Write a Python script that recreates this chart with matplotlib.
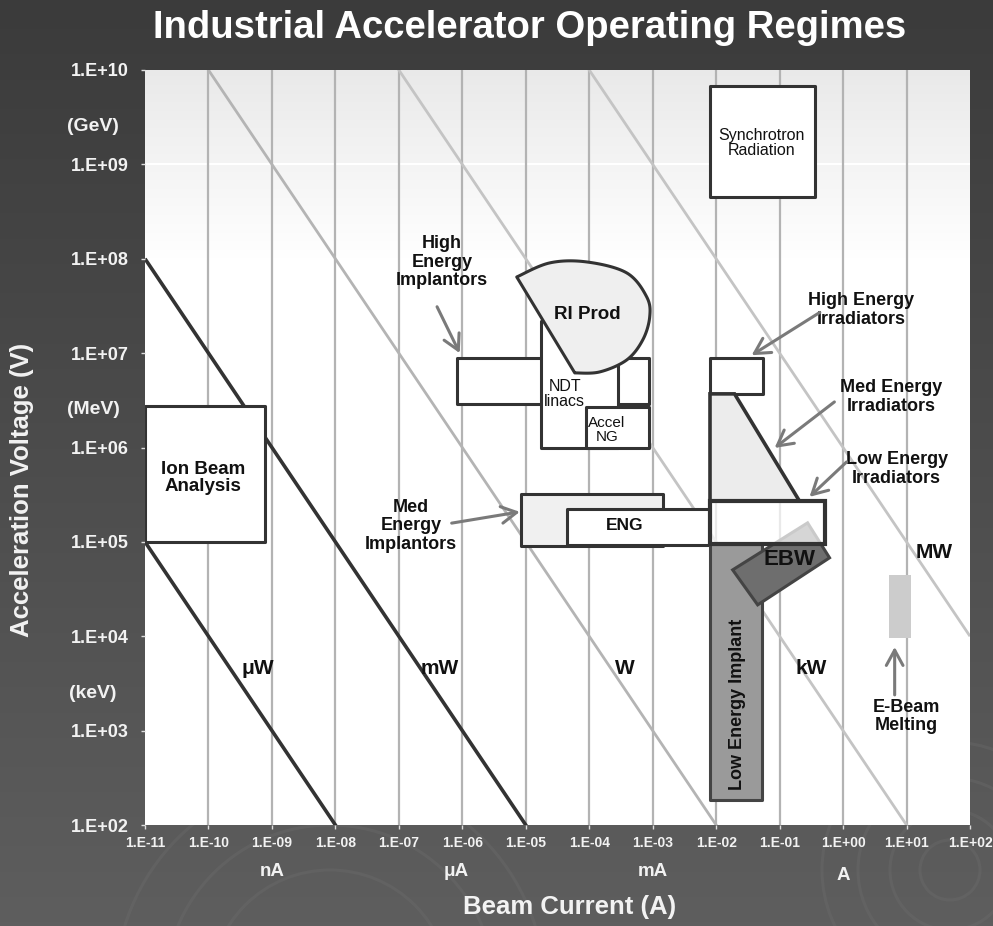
import numpy as np
import matplotlib
matplotlib.use("Agg")
import matplotlib.pyplot as plt
from matplotlib.patches import Polygon, Rectangle, Circle
from matplotlib import font_manager

# ---------------- data ----------------
x_ticks = [1e-11, 1e-10, 1e-9, 1e-8, 1e-7, 1e-6, 1e-5, 1e-4, 1e-3, 1e-2, 1e-1, 1e0, 1e1, 1e2]
x_tick_labels = ["1.E-11", "1.E-10", "1.E-09", "1.E-08", "1.E-07", "1.E-06", "1.E-05",
                 "1.E-04", "1.E-03", "1.E-02", "1.E-01", "1.E+00", "1.E+01", "1.E+02"]
y_ticks = [1e2, 1e3, 1e4, 1e5, 1e6, 1e7, 1e8, 1e9, 1e10]
y_tick_labels = ["1.E+02", "1.E+03", "1.E+04", "1.E+05", "1.E+06", "1.E+07", "1.E+08", "1.E+09", "1.E+10"]

current_units = ["nA", "μA", "mA", "A"]
current_unit_pos = [1e-9, 8e-7, 1e-3, 1e0]
voltage_units = ["(keV)", "(MeV)", "(GeV)"]
voltage_unit_pos = [2.5e3, 2.5e6, 2.5e9]

power_levels = [1e-6, 1e-3, 1e0, 1e3, 1e6]
power_labels = ["μW", "mW", "W", "kW", "MW"]
power_label_current = [6.0e-10, 4.4e-7, 3.6e-4, 0.32, 27.0]
power_label_voltage = [4.6e3, 4.6e3, 4.6e3, 4.6e3, 7.7e4]
power_line_colors = ["#333333", "#333333", "#b4b4b4", "#c4c4c4", "#c4c4c4"]
power_line_widths = [2.6, 2.6, 2.0, 2.0, 2.0]

# rectangular regimes (drawing order)
box_names = ["Ion Beam Analysis", "High Energy Implantors", "NDT linacs", "Accel NG",
             "Med Energy Implantors", "ENG", "Synchrotron Radiation", "High Energy Irradiators",
             "Low Energy Implant"]
box_i_lo = [1e-11, 8.1e-7, 1.74e-5, 8.9e-5, 8.3e-6, 4.4e-5, 8e-3, 8e-3, 8e-3]
box_i_hi = [7.8e-10, 8.9e-4, 2.8e-4, 8.9e-4, 1.45e-3, 7.9e-3, 0.356, 0.054, 0.052]
box_v_lo = [1e5, 2.9e6, 1e6, 1e6, 9e4, 9.2e4, 4.5e8, 3.7e6, 186]
box_v_hi = [2.75e6, 8.9e6, 2.2e7, 2.7e6, 3.2e5, 2.24e5, 6.8e9, 8.9e6, 9.5e4]
box_fill = ["white", "white", "white", "white", "#f0f0f0", "white", "white", "white", "#9a9a9a"]

# Low energy irradiators (semi-transparent, drawn last)
lei_i = [8e-3, 0.51]
lei_v = [9.5e4, 2.7e5]

# Med energy irradiators (trapezoid)
mei_current = [8e-3, 0.0195, 0.206, 8e-3]
mei_voltage = [3.7e6, 3.7e6, 2.7e5, 2.7e5]

# EBW (tilted rectangle)
ebw_current = [0.0182, 0.276, 0.612, 0.0451]
ebw_voltage = [5.05e4, 1.59e5, 6.78e4, 2.15e4]

# E-beam melting
ebm_i = [5.2, 11.6]
ebm_v = [9.6e3, 4.5e4]

# RI Prod fan: arc outline from upper-left corner around to the apex
fan_current = [7.21e-6, 2.39e-5, 9.14e-5, 3.90e-4, 8.05e-4, 8.97e-4, 6.97e-4, 3.90e-4, 1.46e-4, 5.92e-5]
fan_voltage = [6.41e7, 9.04e7, 9.25e7, 7.08e7, 3.94e7, 2.42e7, 1.38e7, 8.47e6, 6.32e6, 6.17e6]

# labels inside regimes
region_labels = ["Ion Beam\nAnalysis", "RI Prod", "NDT\nlinacs", "Accel\nNG", "ENG",
                 "Synchrotron\nRadiation", "EBW", "Low Energy Implant"]
region_label_i = [8.2e-11, 9.46e-5, 4.1e-5, 1.89e-4, 3.62e-4, 0.052, 0.1435, 0.0218]
region_label_v = [4.76e5, 2.54e7, 3.7e6, 1.53e6, 1.48e5, 1.69e9, 6.46e4, 1.92e3]
region_label_size = [13.5, 13.5, 11.5, 11, 12.5, 11.5, 16, 13]
region_label_weight = ["bold", "bold", "normal", "normal", "bold", "normal", "bold", "bold"]
region_label_rot = [0, 0, 0, 0, 0, 0, 0, 90]

# callouts
callout_texts = ["High\nEnergy\nImplantors", "Med\nEnergy\nImplantors", "High Energy\nIrradiators",
                 "Med Energy\nIrradiators", "Low Energy\nIrradiators", "E-Beam\nMelting"]
callout_text_i = [4.8e-7, 1.55e-7, 1.95, 5.8, 6.97, 10.0]
callout_text_v = [9.2e7, 1.48e5, 2.87e7, 3.44e6, 5.93e5, 1.4e3]
callout_tail_i = [4.0e-7, 6.8e-7, 0.43, 0.73, 1.135, 6.5]
callout_tail_v = [3.1e7, 1.58e5, 2.7e7, 3.04e6, 7.03e5, 2.39e3]
callout_head_i = [9.1e-7, 8.05e-6, 0.0362, 0.0834, 0.296, 6.5]
callout_head_v = [1.0e7, 2.08e5, 9.5e6, 9.9e5, 3.0e5, 7.7e3]

title = "Industrial Accelerator Operating Regimes"
xlabel = "Beam Current (A)"
ylabel = "Acceleration Voltage (V)"

# ---------------- style ----------------
W, H, DPI = 993, 926, 100
SANS = ["Liberation Sans", "DejaVu Sans"]
avail = {f.name for f in font_manager.fontManager.ttflist}
NARROW = ["Liberation Sans Narrow", "Liberation Sans", "DejaVu Sans"] if "Liberation Sans Narrow" in avail else SANS
plt.rcParams["font.family"] = SANS
EDGE = "#333333"

fig = plt.figure(figsize=(W / DPI, H / DPI), dpi=DPI)

# background
bg = fig.add_axes([0, 0, 1, 1], zorder=-10)
g = np.linspace(0, 1, 256)[:, None, None]
top_c = np.array([0x3b, 0x3b, 0x3b]) / 255
bot_c = np.array([0x5e, 0x5e, 0x5e]) / 255
bg.imshow(top_c + (bot_c - top_c) * g * np.ones((1, 2, 3)), extent=[0, W, 0, H], aspect="auto", origin="upper")
for cx, cy, r in [(330, 990, 120), (330, 990, 165), (330, 990, 215),
                  (950, 870, 30), (950, 870, 60), (950, 870, 92), (950, 870, 128)]:
    bg.add_patch(Circle((cx, H - cy), r, fill=False, ec="#707070", lw=2.2, alpha=0.3))
bg.set_xlim(0, W)
bg.set_ylim(0, H)
bg.axis("off")

ax = fig.add_axes([145 / W, 1 - 825 / H, 825 / W, 755 / H])
ax.set_xscale("log")
ax.set_yscale("log")
ax.set_xlim(1e-11, 1e2)
ax.set_ylim(1e2, 1e10)
ax.set_autoscale_on(False)
ax.set_facecolor("white")

# light gradient at top of plot
frac = 0.25
gg = np.linspace(0, 1, 200)[:, None, None]
gimg = np.clip(0.915 + (1 - 0.915) * gg, 0, 1) * np.ones((1, 2, 3))
ax.imshow(gimg, extent=(0, 1, 1 - frac, 1), transform=ax.transAxes, aspect="auto",
          origin="upper", zorder=0)

for s in ax.spines.values():
    s.set_visible(False)

ax.set_xticks(x_ticks)
ax.set_xticklabels(x_tick_labels, family=NARROW, fontsize=10, fontweight="bold", color="#f2f2f2")
ax.set_yticks(y_ticks)
ax.set_yticklabels(y_tick_labels, fontsize=13, fontweight="bold", color="#f2f2f2")
ax.minorticks_off()
ax.tick_params(axis="x", length=3, width=1, color="#dddddd", pad=5)
ax.tick_params(axis="y", length=3, width=1, color="#dddddd", pad=9)

for xv in x_ticks[1:-1]:
    ax.axvline(xv, color="#b3b3b3", lw=1.6, zorder=0.5)
for yv in y_ticks[1:-1]:
    ax.axhline(yv, color="white", lw=1.5, zorder=0.4)

# power lines
xl = np.array([1e-11, 1e2])
for p, c, lw in zip(power_levels, power_line_colors, power_line_widths):
    ax.plot(xl, p / xl, color=c, lw=lw, zorder=1, solid_capstyle="butt")
for lab, li, lv in zip(power_labels, power_label_current, power_label_voltage):
    ax.text(li, lv, lab, fontsize=15, fontweight="bold", ha="center", va="center", color="#111111", zorder=3)

# boxes
z = 2
for name, i0, i1, v0, v1, fc in zip(box_names, box_i_lo, box_i_hi, box_v_lo, box_v_hi, box_fill):
    ax.add_patch(Rectangle((i0, v0), i1 - i0, v1 - v0, facecolor=fc,
                           edgecolor=EDGE if fc != "#9a9a9a" else "#444444",
                           lw=2.2, zorder=z, joinstyle="round"))
    z += 0.01
    if name == "Accel NG":
        # RI Prod fan drawn after the NDT/Accel boxes (smoothed outline in log space)
        u = np.log10(fan_current) * 63.5
        v = np.log10(fan_voltage) * 94.4
        pts = np.column_stack([u, v])
        ext = np.vstack([pts[0], pts, pts[-1]])
        curve = []
        for k in range(1, len(ext) - 2):
            p0, p1, p2, p3 = ext[k - 1], ext[k], ext[k + 1], ext[k + 2]
            for t in np.linspace(0, 1, 16, endpoint=False):
                t2, t3 = t * t, t * t * t
                curve.append(0.5 * ((2 * p1) + (-p0 + p2) * t + (2 * p0 - 5 * p1 + 4 * p2 - p3) * t2
                                    + (-p0 + 3 * p1 - 3 * p2 + p3) * t3))
        curve.append(pts[-1])
        curve = np.array(curve)
        fan_xy = np.column_stack([10 ** (curve[:, 0] / 63.5), 10 ** (curve[:, 1] / 94.4)])
        ax.add_patch(Polygon(fan_xy, closed=True, facecolor="#efefef", edgecolor=EDGE, lw=2.2,
                             zorder=z, joinstyle="round"))
        z += 0.01

ax.add_patch(Polygon(np.column_stack([mei_current, mei_voltage]), closed=True, facecolor="#ececec",
                     edgecolor=EDGE, lw=2.6, zorder=z))
z += 0.01
ax.add_patch(Polygon(np.column_stack([ebw_current, ebw_voltage]), closed=True, facecolor="#6e6e6e",
                     edgecolor="#444444", lw=2.2, zorder=z))
z += 0.01
ax.add_patch(Rectangle((lei_i[0], lei_v[0]), lei_i[1] - lei_i[0], lei_v[1] - lei_v[0],
                       facecolor=(1, 1, 1, 0.72), edgecolor=EDGE, lw=3, zorder=z))
z += 0.01
ax.add_patch(Rectangle((ebm_i[0], ebm_v[0]), ebm_i[1] - ebm_i[0], ebm_v[1] - ebm_v[0],
                       facecolor="#cccccc", edgecolor="none", zorder=z))

for lab, li, lv, fs, fw, rot in zip(region_labels, region_label_i, region_label_v, region_label_size,
                                    region_label_weight, region_label_rot):
    ax.text(li, lv, lab, fontsize=fs, fontweight=fw, rotation=rot, ha="center", va="center",
            color="#111111", zorder=5, linespacing=1.05)

for txt, ti, tv, ai, av, hi, hv in zip(callout_texts, callout_text_i, callout_text_v, callout_tail_i,
                                        callout_tail_v, callout_head_i, callout_head_v):
    ax.text(ti, tv, txt, fontsize=13, fontweight="bold", ha="center", va="center", color="#111111",
            zorder=5, linespacing=1.1)
    ax.annotate("", xy=(hi, hv), xytext=(ai, av),
                arrowprops=dict(arrowstyle="->,head_length=0.55,head_width=0.3", color="#7a7a7a",
                                lw=2.2, mutation_scale=20, shrinkA=0, shrinkB=0), zorder=5)

# unit labels
for lab, pos in zip(current_units, current_unit_pos):
    dy = -4 if lab == "A" else 0
    ax.annotate(lab, xy=(pos, H - 872 + dy), xycoords=("data", "figure pixels"), ha="center", va="center",
                fontsize=13.5, fontweight="bold", color="#f2f2f2", annotation_clip=False)
for lab, pos in zip(voltage_units, voltage_unit_pos):
    ax.annotate(lab, xy=(93, pos), xycoords=("figure pixels", "data"), ha="center", va="center",
                fontsize=14, fontweight="bold", color="#f2f2f2", annotation_clip=False)

fig.text(530 / W, 1 - 28 / H, title, ha="center", va="center", fontsize=27.5, fontweight="bold", color="white")
fig.text(570 / W, 1 - 907 / H, xlabel, ha="center", va="center", fontsize=18.5, fontweight="bold", color="#f2f2f2")
fig.text(22 / W, 1 - 490 / H, ylabel, ha="center", va="center", rotation=90, fontsize=18.5,
         fontweight="bold", color="#f2f2f2")

fig.savefig("out.png", dpi=DPI)
